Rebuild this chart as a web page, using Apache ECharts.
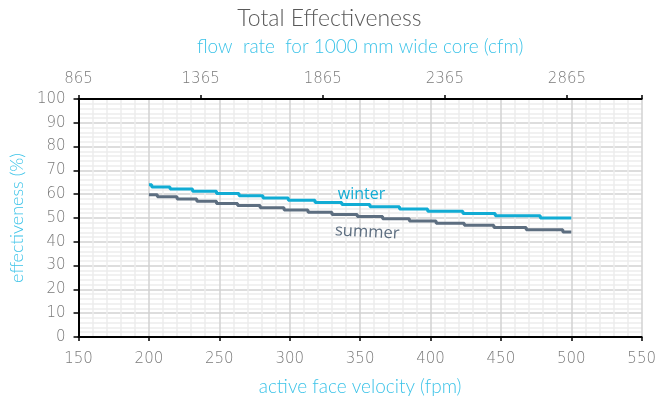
<!DOCTYPE html>
<html>
<head>
<meta charset="utf-8">
<script src="https://cdn.jsdelivr.net/npm/echarts@6/dist/echarts.min.js"></script>
<style>html,body{margin:0;padding:0;background:#fff}#c{width:659px;height:404px}</style>
</head>
<body>
<div id="c"></div>
<script>
// Bottom axis: active face velocity (fpm)
const velocityTicks = [150, 200, 250, 300, 350, 400, 450, 500, 550];
// Top axis: flow rate (cfm) tick labels, 500 cfm apart
const flowTicks = [865, 1365, 1865, 2365, 2865];
const flowSpan = 2306; // cfm range across the plot width (150..550 fpm)
const effTicks = [0, 10, 20, 30, 40, 50, 60, 70, 80, 90, 100];

// Winter series (step start points: velocity, effectiveness)
const winterX = [200, 202, 215, 231, 248, 264, 281, 299, 318, 337, 357, 378, 398, 423, 446, 478, 500];
const winterY = [64.0, 63.07, 62.14, 61.21, 60.28, 59.35, 58.42, 57.49, 56.56, 55.63, 54.70, 53.77, 52.84, 51.91, 50.98, 50.05, 50.05];
// Summer series
const summerX = [200, 206, 220, 234, 248, 263, 279, 296, 313, 330, 348, 366, 385, 404, 424, 445, 468, 494, 500];
const summerY = [59.80, 58.88, 57.96, 57.04, 56.12, 55.20, 54.28, 53.36, 52.44, 51.52, 50.60, 49.68, 48.76, 47.84, 46.92, 46.00, 45.08, 44.16, 44.16];

const seriesNames = ['winter', 'summer'];
const labelPos = { winter: [351, 60.1], summer: [355, 44.0] };

const font = 'Lato, "DejaVu Sans", sans-serif';
const tickFont = '"DejaVu Sans", sans-serif';
const cyan = '#3cc3e8';
const grey = '#7a7a7a';
const winterColor = '#11acd4';
const summerColor = '#5d6e80';

const chart = echarts.init(document.getElementById('c'), null, { renderer: 'canvas' });
const tickLabel = { fontFamily: tickFont, fontSize: 15, fontWeight: 200, color: grey };
const hiddenSym = { symbol: 'circle', symbolSize: 1, itemStyle: { color: 'rgba(0,0,0,0)' } };
chart.setOption({
  animation: false,
  title: {
    text: 'Total Effectiveness', left: 'center', top: 2,
    textStyle: { fontFamily: font, fontSize: 23, fontWeight: 300, color: '#595959' }
  },
  grid: { left: 77, right: 17, top: 99, bottom: 67 },
  xAxis: [{
    type: 'value', min: velocityTicks[0], max: velocityTicks[velocityTicks.length - 1], interval: 50,
    position: 'bottom',
    name: 'active face velocity (fpm)', nameLocation: 'middle', nameGap: 40,
    nameTextStyle: { fontFamily: font, fontSize: 19, fontWeight: 300, color: cyan },
    axisLine: { show: true, onZero: false, lineStyle: { color: '#000', width: 2 } },
    axisTick: { show: true, inside: false, length: 4, lineStyle: { color: '#000', width: 1.5 } },
    axisLabel: Object.assign({ margin: 15 }, tickLabel),
    splitLine: { show: true, lineStyle: { color: '#d2d2d2', width: 1.5 } },
    minorTick: { show: false, splitNumber: 5 },
    minorSplitLine: { show: true, lineStyle: { color: '#ededed', width: 1.5 } }
  }, {
    type: 'value', min: 0, max: flowSpan, interval: 500, position: 'top',
    name: 'flow  rate  for 1000 mm wide core (cfm)', nameLocation: 'middle', nameGap: 43,
    nameTextStyle: { fontFamily: font, fontSize: 19, fontWeight: 300, color: cyan },
    axisLine: { show: true, onZero: false, lineStyle: { color: '#000', width: 2 } },
    axisTick: { show: true, length: 4, lineStyle: { color: '#000', width: 1.5 } },
    axisLabel: Object.assign({ margin: 12, formatter: v => String(flowTicks[Math.round(v / 500)] ?? '') }, tickLabel),
    splitLine: { show: false }
  }],
  yAxis: {
    type: 'value', min: effTicks[0], max: effTicks[effTicks.length - 1], interval: 10,
    name: 'effectiveness (%)', nameLocation: 'middle', nameGap: 52, nameRotate: 90,
    nameTextStyle: { fontFamily: font, fontSize: 18, fontWeight: 300, color: cyan },
    axisLine: { show: true, onZero: false, lineStyle: { color: '#000', width: 2 } },
    axisTick: { show: true, length: 5, lineStyle: { color: '#000', width: 1.5 } },
    axisLabel: Object.assign({ margin: 13 }, tickLabel),
    splitLine: { show: true, lineStyle: { color: '#d2d2d2', width: 1.5 } },
    minorTick: { show: false, splitNumber: 5 },
    minorSplitLine: { show: true, lineStyle: { color: '#ededed', width: 1.5 } }
  },
  series: [
    {
      name: seriesNames[0], type: 'line', step: 'end', showSymbol: false, symbol: 'none',
      data: winterX.map((x, i) => [x, winterY[i]]),
      lineStyle: { color: winterColor, width: 3 },
      markPoint: Object.assign({
        data: [{ coord: labelPos.winter, value: seriesNames[0] }],
        label: { show: true, position: 'inside', formatter: seriesNames[0], fontFamily: '"Open Sans", sans-serif', fontSize: 16, color: winterColor }
      }, hiddenSym)
    },
    {
      name: seriesNames[1], type: 'line', step: 'end', showSymbol: false, symbol: 'none',
      data: summerX.map((x, i) => [x, summerY[i]]),
      lineStyle: { color: summerColor, width: 3 },
      markPoint: Object.assign({
        data: [{ coord: labelPos.summer, value: seriesNames[1] }],
        label: { show: true, position: 'inside', formatter: seriesNames[1], fontFamily: '"Open Sans", sans-serif', fontSize: 16.5, color: summerColor, rotate: -3 }
      }, hiddenSym)
    }
  ]
});
</script>
</body>
</html>
